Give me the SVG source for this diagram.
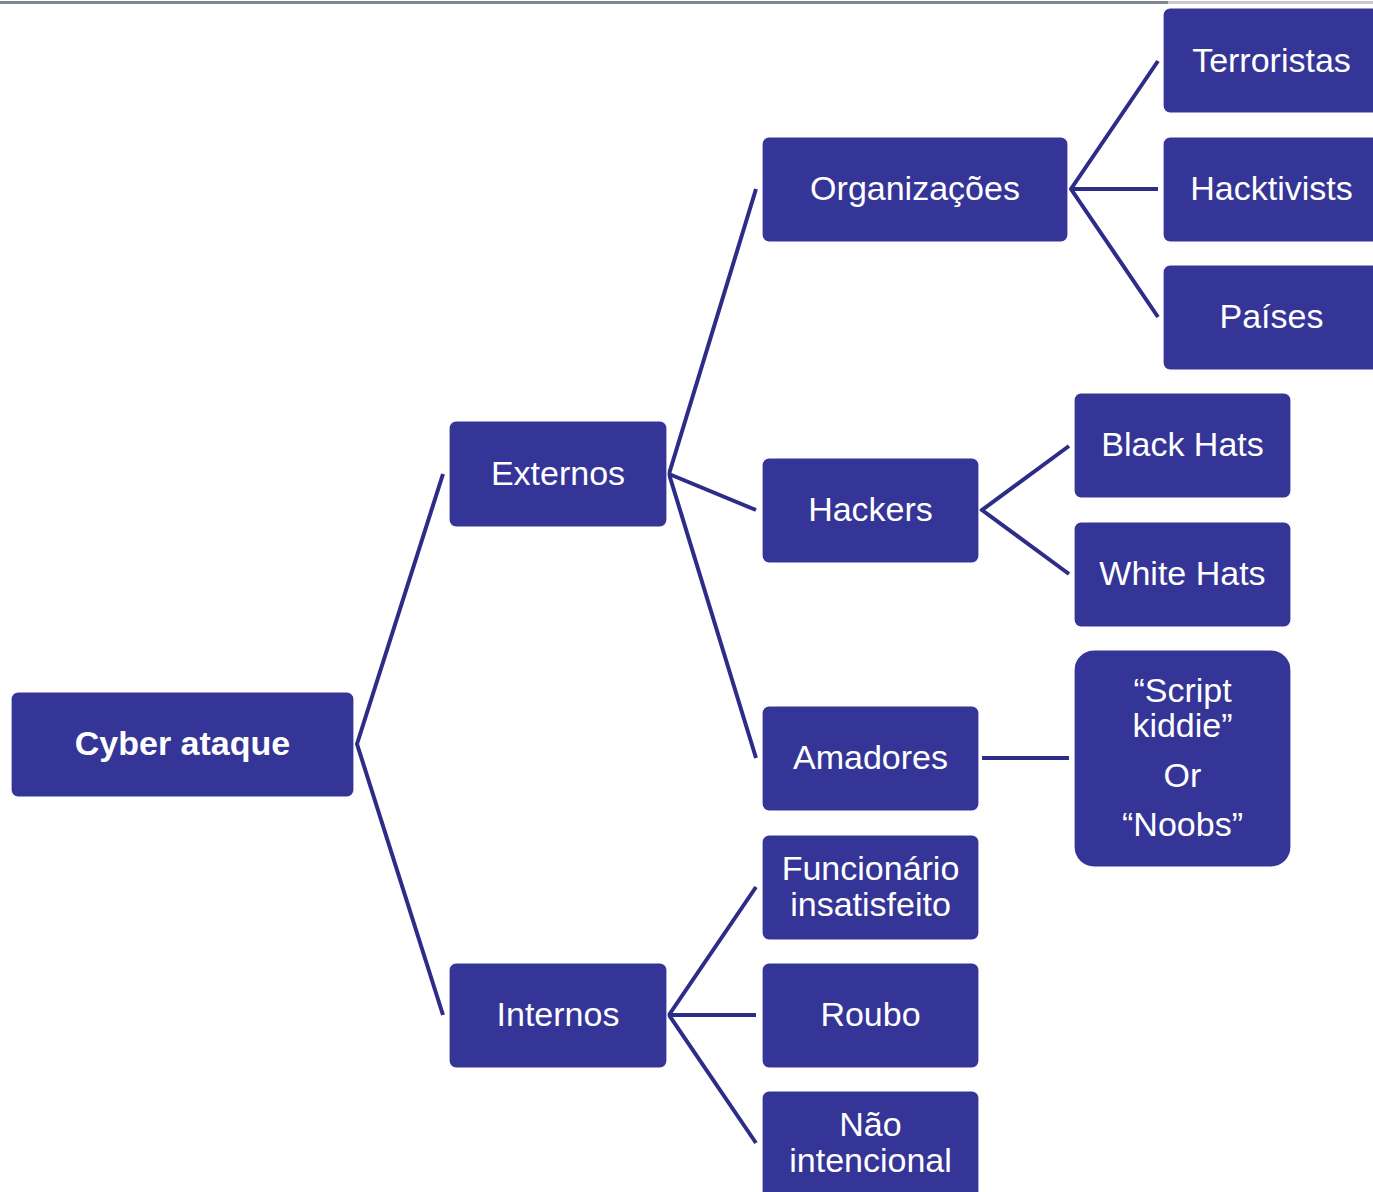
<svg xmlns="http://www.w3.org/2000/svg" width="1373" height="1192" viewBox="0 0 1373 1192">
<style>
.n{fill:#353598;stroke:#ffffff;stroke-width:1.2}
.t{font-family:"Liberation Sans",Arial,sans-serif;font-size:34px;fill:#ffffff;text-anchor:middle}
.b{font-weight:bold}
.c{stroke:#2d2d88;stroke-width:4;fill:none;stroke-linejoin:miter}
</style>
<rect x="0" y="0" width="1373" height="1192" fill="#ffffff"/>
<line x1="0" y1="2.5" x2="1168" y2="2.5" stroke="#808890" stroke-width="3"/>
<line x1="1168" y1="2.5" x2="1373" y2="2.5" stroke="#c8ccd2" stroke-width="3"/>
<g id="connectors">
<polyline class="c" points="443,474 357,744 443,1015"/>
<polyline class="c" points="756,189 669,474 756,758"/>
<line class="c" x1="669" y1="474" x2="756" y2="510"/>
<polyline class="c" points="756,887 669,1015 756,1143"/>
<line class="c" x1="669" y1="1015" x2="756" y2="1015"/>
<polyline class="c" points="1158,61 1071,189 1158,317"/>
<line class="c" x1="1071" y1="189" x2="1158" y2="189"/>
<polyline class="c" points="1069,446 982,510 1069,574"/>
<line class="c" x1="982" y1="758" x2="1069" y2="758"/>
</g>
<g id="n-cyber"><rect class="n" x="11" y="692" width="343" height="105" rx="7"/><text class="t b" x="182.5" y="755">Cyber ataque</text></g>
<g id="n-externos"><rect class="n" x="449" y="421" width="218" height="106" rx="7"/><text class="t" x="558" y="485">Externos</text></g>
<g id="n-internos"><rect class="n" x="449" y="963" width="218" height="105" rx="7"/><text class="t" x="558" y="1026">Internos</text></g>
<g id="n-organizacoes"><rect class="n" x="762" y="137" width="306" height="105" rx="7"/><text class="t" x="915" y="200">Organizações</text></g>
<g id="n-hackers"><rect class="n" x="762" y="458" width="217" height="105" rx="7"/><text class="t" x="870.5" y="521">Hackers</text></g>
<g id="n-amadores"><rect class="n" x="762" y="706" width="217" height="105" rx="7"/><text class="t" x="870.5" y="769">Amadores</text></g>
<g id="n-funcionario"><rect class="n" x="762" y="835" width="217" height="105" rx="7"/><text class="t" x="870.5" y="880">Funcionário</text><text class="t" x="870.5" y="916">insatisfeito</text></g>
<g id="n-roubo"><rect class="n" x="762" y="963" width="217" height="105" rx="7"/><text class="t" x="870.5" y="1026">Roubo</text></g>
<g id="n-naointencional"><rect class="n" x="762" y="1091" width="217" height="110" rx="7"/><text class="t" x="870.5" y="1136">Não</text><text class="t" x="870.5" y="1172">intencional</text></g>
<g id="n-terroristas"><rect class="n" x="1163" y="8" width="217" height="105" rx="7"/><text class="t" x="1271.5" y="72">Terroristas</text></g>
<g id="n-hacktivists"><rect class="n" x="1163" y="137" width="217" height="105" rx="7"/><text class="t" x="1271.5" y="200">Hacktivists</text></g>
<g id="n-paises"><rect class="n" x="1163" y="265" width="217" height="105" rx="7"/><text class="t" x="1271.5" y="328">Países</text></g>
<g id="n-blackhats"><rect class="n" x="1074" y="393" width="217" height="105" rx="7"/><text class="t" x="1182.5" y="456">Black Hats</text></g>
<g id="n-whitehats"><rect class="n" x="1074" y="522" width="217" height="105" rx="7"/><text class="t" x="1182.5" y="585">White Hats</text></g>
<g id="n-scriptkiddie"><rect class="n" x="1074" y="650" width="217" height="217" rx="20"/><text class="t" x="1182.5" y="702">“Script</text><text class="t" x="1182.5" y="737">kiddie”</text><text class="t" x="1182.5" y="787">Or</text><text class="t" x="1182.5" y="836">“Noobs”</text></g>
</svg>
